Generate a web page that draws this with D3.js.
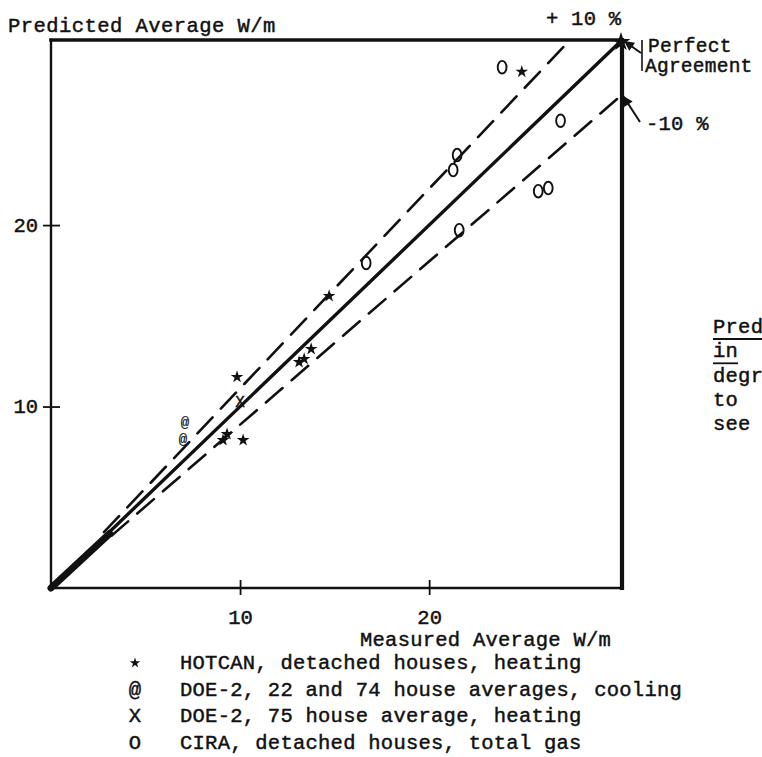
<!DOCTYPE html>
<html>
<head>
<meta charset="utf-8">
<script src="https://cdn.jsdelivr.net/npm/d3@7"></script>
<style>
  html, body { margin: 0; padding: 0; background: #fff; }
  svg { display: block; }
  text { font-family: "Liberation Mono", "Courier New", monospace; fill: #111; stroke: #111; stroke-width: 0.45px; }
</style>
</head>
<body>
<svg id="chart" width="762" height="757"></svg>
<script>
// ---- data (measured, predicted) in W/m ----
const hotcan = [[24.9, 28.45], [14.71, 16.09], [13.76, 13.17], [13.12, 12.45], [13.39, 12.62],
                [9.84, 11.63], [9.10, 8.15], [9.31, 8.48], [10.16, 8.15]];
const doe2Cooling = [[7.09, 9.12], [6.98, 8.2]];
const doe2Heating = [[10.0, 10.3]];
const cira = [[23.86, 28.7], [26.95, 25.75], [21.48, 23.86], [21.27, 23.03], [25.77, 21.87],
              [26.30, 22.04], [21.59, 19.72], [16.67, 17.91]];
const xTicks = [10, 20];
const yTicks = [10, 20];
const perfectLine = [[0, 0], [30.2, 30.2]];
const thickStart = [[0, 0], [3.1, 3.0]];
const plus10Line = [[2.8, 3.08], [27.45, 30.2]];
const minus10Line = [[3.2, 2.88], [30.2, 27.18]];
const legendSymbols = ["*", "@", "X", "O"];
const legendLabels = ["HOTCAN, detached houses, heating",
                      "DOE-2, 22 and 74 house averages, cooling",
                      "DOE-2, 75 house average, heating",
                      "CIRA, detached houses, total gas"];
const sideText = ["Pred", "in", "degr", "to", "see"];

const svg = d3.select("#chart");
const FS = 20.5;
const LS = 0.25;

const x = d3.scaleLinear().domain([0, 30.2]).range([51, 622]);
const y = d3.scaleLinear().domain([0, 30.2]).range([588, 40]);
const line = d3.line().x(d => x(d[0])).y(d => y(d[1]));

// ---- axes ----
const gx = svg.append("g").attr("transform", `translate(0,${y(0)})`)
  .call(d3.axisBottom(x).tickValues(xTicks).tickFormat(d3.format("d")));
gx.select(".domain").remove();
gx.selectAll(".tick line").attr("y1", -8).attr("y2", 7).attr("stroke", "#111").attr("stroke-width", 1.8);
gx.selectAll(".tick text").attr("y", 36).attr("dy", 0).style("font-size", FS + "px")
  .style("font-family", "Liberation Mono").attr("fill", "#111");

const gy = svg.append("g").attr("transform", `translate(${x(0)},0)`)
  .call(d3.axisLeft(y).tickValues(yTicks).tickFormat(d3.format("d")));
gy.select(".domain").remove();
gy.selectAll(".tick line").attr("x1", -8).attr("x2", 9).attr("stroke", "#111").attr("stroke-width", 1.8);
gy.selectAll(".tick text").attr("x", -13).attr("dy", "0.3em").style("font-size", FS + "px")
  .style("font-family", "Liberation Mono").attr("fill", "#111");

// ---- frame ----
const frame = [
  {p: [[0, 0], [0, 30.2]], w: 2.4},
  {p: [[0, 0], [30.2, 0]], w: 2.4},
  {p: [[0, 30.2], [30.2, 30.2]], w: 3.6},
  {p: [[30.2, 0], [30.2, 30.2]], w: 4.2}
];
svg.append("g").selectAll("path").data(frame).join("path")
  .attr("d", d => line(d.p)).attr("stroke", "#111").attr("stroke-width", d => d.w)
  .attr("fill", "none").attr("stroke-linecap", "square");

// ---- reference lines ----
svg.append("path").attr("d", line(perfectLine)).attr("stroke", "#111")
  .attr("stroke-width", 3.4).attr("fill", "none").attr("stroke-linecap", "round");
svg.append("path").attr("d", line(thickStart)).attr("stroke", "#111")
  .attr("stroke-width", 7).attr("fill", "none").attr("stroke-linecap", "round");
[plus10Line, minus10Line].forEach(l => {
  svg.append("path").attr("d", line(l)).attr("stroke", "#111")
    .attr("stroke-width", 2.6).attr("fill", "none")
    .attr("stroke-dasharray", "22,12").attr("stroke-linecap", "round");
});

// ---- markers ----
const star = d3.symbol().type(d3.symbolStar).size(50);
svg.append("g").selectAll("path").data(hotcan).join("path")
  .attr("d", star).attr("transform", d => `translate(${x(d[0])},${y(d[1])})`).attr("fill", "#111");
svg.append("g").selectAll("ellipse").data(cira).join("ellipse")
  .attr("cx", d => x(d[0])).attr("cy", d => y(d[1])).attr("rx", 4.4).attr("ry", 6.3)
  .attr("fill", "none").attr("stroke", "#111").attr("stroke-width", 1.9);
svg.append("g").selectAll("text").data(doe2Cooling).join("text")
  .attr("x", d => x(d[0])).attr("y", d => y(d[1])).attr("dy", "0.35em")
  .attr("text-anchor", "middle").style("font-size", "14px").style("stroke-width", "0.2px").text("@");
svg.append("g").selectAll("text").data(doe2Heating).join("text")
  .attr("x", d => x(d[0])).attr("y", d => y(d[1])).attr("dy", "0.35em")
  .attr("text-anchor", "middle").style("font-size", "16px").text("X");

// ---- perfect-agreement marker and arrows ----
svg.append("path").attr("d", d3.symbol().type(d3.symbolStar).size(110))
  .attr("transform", `translate(${x(30.2) - 1},${y(30.2) + 2})`).attr("fill", "#111");
function arrow(x1, y1, x2, y2) {
  svg.append("line").attr("x1", x1).attr("y1", y1).attr("x2", x2).attr("y2", y2)
    .attr("stroke", "#111").attr("stroke-width", 2);
  const a = Math.atan2(y2 - y1, x2 - x1), L = 10, W = 5;
  const bx = x2 - L * Math.cos(a), by = y2 - L * Math.sin(a);
  svg.append("path").attr("d",
    `M${x2},${y2}L${bx + W * Math.sin(a)},${by - W * Math.cos(a)}L${bx - W * Math.sin(a)},${by + W * Math.cos(a)}Z`)
    .attr("fill", "#111");
}
arrow(641, 53, x(30.2) + 2, y(30.2) + 1);
arrow(640, 122, x(30.2) + 1, y(27.18) + 1);
svg.append("line").attr("x1", 642).attr("x2", 642).attr("y1", 40).attr("y2", 71)
  .attr("stroke", "#111").attr("stroke-width", 1.6);

// ---- texts ----
function txt(s, tx, ty, anchor) {
  return svg.append("text").attr("x", tx).attr("y", ty).attr("text-anchor", anchor || "start")
    .style("font-size", FS + "px").style("letter-spacing", LS + "px").text(s);
}
txt("Predicted Average W/m", 8, 32).style("letter-spacing", "0.45px");
txt("+ 10 %", 546, 25);
txt("Perfect", 648, 52).style("font-size", "19.5px");
txt("Agreement", 645, 72).style("font-size", "19.5px");
txt("-10 %", 646, 130);
txt("Measured Average W/m", 360, 646);

// legend
const lg = svg.append("g");
legendLabels.forEach((s, i) => {
  const by = 669 + i * 26.5;
  if (legendSymbols[i] === "*") {
    lg.append("path").attr("d", d3.symbol().type(d3.symbolStar).size(34))
      .attr("transform", `translate(135,${by - 6})`).attr("fill", "#111");
  } else {
    lg.append("text").attr("x", 135).attr("y", by).attr("text-anchor", "middle")
      .style("font-size", FS + "px").text(legendSymbols[i]);
  }
  lg.append("text").attr("x", 180).attr("y", by).style("font-size", FS + "px")
    .style("letter-spacing", LS + "px").text(s);
});

// cut-off side note
sideText.forEach((s, i) => {
  const by = 333 + i * 24.3;
  txt(s, 713, by);
  if (i < 2) {
    svg.append("line").attr("x1", 713).attr("x2", i === 0 ? 762 : 738)
      .attr("y1", by + 6).attr("y2", by + 6).attr("stroke", "#111").attr("stroke-width", 1.8);
  }
});
</script>
</body>
</html>
